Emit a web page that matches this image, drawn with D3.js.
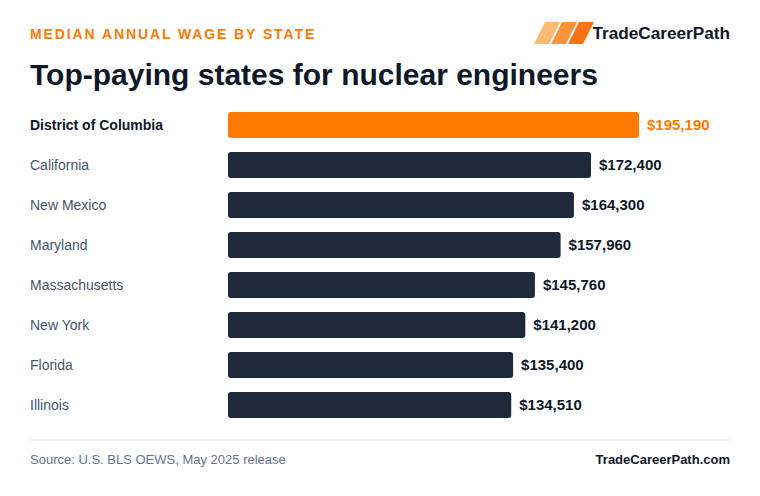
<!DOCTYPE html><html><head><meta charset="utf-8"><script src="https://cdn.jsdelivr.net/npm/d3@7"></script>
<style>body{margin:0;background:#fff}svg{font-family:"Liberation Sans",Arial,sans-serif}</style></head><body>
<script>
const states=["District of Columbia","California","New Mexico","Maryland","Massachusetts","New York","Florida","Illinois"];
const wages=[195190,172400,164300,157960,145760,141200,135400,134510];
const W=760,H=496;
const svg=d3.select("body").append("svg").attr("width",W).attr("height",H);
svg.append("text").attr("x",30).attr("y",39).text("MEDIAN ANNUAL WAGE BY STATE").attr("fill","#ff7a00").attr("font-size",14).attr("font-weight",700).attr("letter-spacing",1.9);
svg.append("text").attr("x",30).attr("y",85).text("Top-paying states for nuclear engineers").attr("fill","#0f172a").attr("font-size",30).attr("font-weight",700);
const cols=["#fdba74","#fb923c","#f97316"];
cols.forEach((c,i)=>{const x0=534+i*17;svg.append("path").attr("d",`M${x0},44 L${x0+11},22 L${x0+26},22 L${x0+15},44Z`).attr("fill",c);});
svg.append("text").attr("x",730).attr("y",39).attr("text-anchor","end").text("TradeCareerPath").attr("fill","#0f172a").attr("font-size",17.2).attr("font-weight",700);
const x=d3.scaleLinear().domain([0,195190]).range([228,639]);
const y=d3.scaleBand().domain(states).range([105,425]).paddingInner(0.35).paddingOuter(0.175);
const g=svg.append("g");
states.forEach((s,i)=>{
 const hi=i===0;
 g.append("rect").attr("x",x(0)).attr("y",y(s)).attr("width",x(wages[i])-x(0)).attr("height",y.bandwidth()).attr("rx",3).attr("fill",hi?"#ff7a00":"#1e293b");
 g.append("text").attr("x",30).attr("y",y(s)+y.bandwidth()/2+4.5).text(s).attr("font-size",14).attr("fill",hi?"#0f172a":"#475569").attr("font-weight",hi?700:400);
 g.append("text").attr("x",x(wages[i])+8).attr("y",y(s)+y.bandwidth()/2+5).text("$"+d3.format(",")(wages[i])).attr("font-size",15).attr("font-weight",700).attr("fill",hi?"#ff7a00":"#0f172a");
});
svg.append("line").attr("x1",30).attr("x2",730).attr("y1",440).attr("y2",440).attr("stroke","#e2e8f0");
svg.append("text").attr("x",30).attr("y",464).text("Source: U.S. BLS OEWS, May 2025 release").attr("font-size",13).attr("fill","#64748b");
svg.append("text").attr("x",730).attr("y",464).attr("text-anchor","end").text("TradeCareerPath.com").attr("font-size",13).attr("font-weight",700).attr("fill","#0f172a");
</script></body></html>
